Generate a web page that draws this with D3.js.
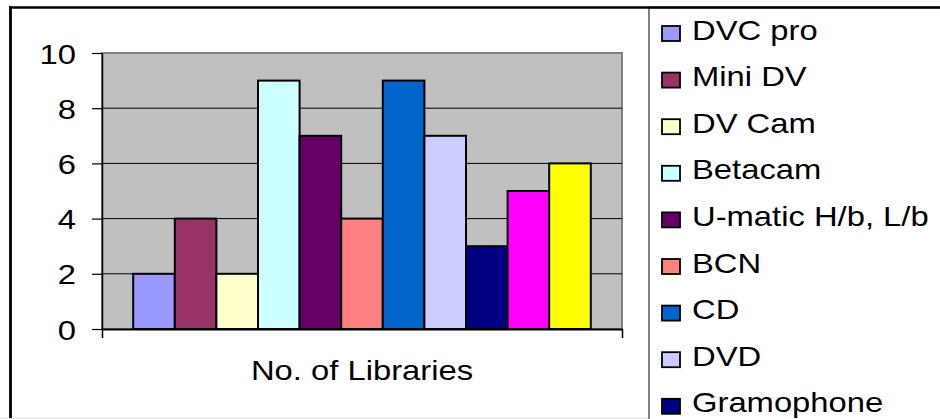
<!DOCTYPE html>
<html>
<head>
<meta charset="utf-8">
<script src="https://cdn.jsdelivr.net/npm/d3@7"></script>
<style>
  html, body { margin: 0; padding: 0; background: #fff; }
  svg { display: block; }
  text { font-family: "Liberation Sans", Arial, sans-serif; fill: #000; }
</style>
</head>
<body>
<svg id="chart" width="940" height="419"></svg>
<script>
// ---- data ----
const seriesNames = ["DVC pro", "Mini DV", "DV Cam", "Betacam", "U-matic H/b, L/b", "BCN", "CD", "DVD", "Gramophone", "Series 10", "Series 11"];
const seriesValues = [2, 4, 2, 9, 7, 4, 9, 7, 3, 5, 6];
const seriesColors = ["#9999FF", "#993366", "#FFFFCC", "#CCFFFF", "#660066", "#FF8080", "#0066CC", "#CCCCFF", "#000080", "#FF00FF", "#FFFF00"];
const categoryLabel = "No. of Libraries";
const yTicks = [0, 2, 4, 6, 8, 10];

// ---- layout ----
const W = 940, H = 419;
const plot = { left: 102, right: 622, top: 53, bottom: 329 };
const sx = 1.17; // horizontal text stretch seen in reference
const fontSize = 28;

const svg = d3.select("#chart");

// outer chart border (left + top black, faint bottom)
svg.append("line").attr("x1", 0).attr("x2", W).attr("y1", 418.5).attr("y2", 418.5)
  .attr("stroke", "#e6e6e6").attr("stroke-width", 1.5);
svg.append("line").attr("x1", 10.5).attr("x2", 10.5).attr("y1", 6).attr("y2", 418)
  .attr("stroke", "#000").attr("stroke-width", 2.8);

// plot area
svg.append("rect").attr("x", plot.left).attr("y", plot.top)
  .attr("width", plot.right - plot.left).attr("height", plot.bottom - plot.top)
  .attr("fill", "#C0C0C0").attr("stroke", "#808080").attr("stroke-width", 2);

const y = d3.scaleLinear().domain([0, 10]).range([plot.bottom, plot.top]);
const plotW = plot.right - plot.left;
const bw = plotW / (seriesNames.length + 1.5);
const x = d3.scaleBand().domain(seriesNames)
  .range([plot.left + bw * 0.75, plot.right - bw * 0.75]).padding(0);

// gridlines
svg.append("g").selectAll("line").data(yTicks.filter(t => t > 0 && t < 10)).join("line")
  .attr("x1", plot.left).attr("x2", plot.right)
  .attr("y1", d => y(d)).attr("y2", d => y(d))
  .attr("stroke", "#000").attr("stroke-width", 1);

// bars
svg.append("g").selectAll("rect").data(seriesValues).join("rect")
  .attr("x", (d, i) => x(seriesNames[i]))
  .attr("y", d => y(d))
  .attr("width", x.bandwidth())
  .attr("height", d => y(0) - y(d))
  .attr("fill", (d, i) => seriesColors[i])
  .attr("stroke", "#000").attr("stroke-width", 2);

// y axis
const yAxis = svg.append("g").attr("transform", `translate(${plot.left},0)`)
  .call(d3.axisLeft(y).tickValues(yTicks).tickSize(10).tickPadding(16).tickSizeOuter(0));
yAxis.select(".domain").attr("stroke", "#000").attr("stroke-width", 1.5);
yAxis.selectAll(".tick line").attr("stroke", "#000").attr("stroke-width", 1.2);
yAxis.selectAll(".tick text").each(function() {
  const t = d3.select(this);
  const xx = +t.attr("x");
  t.attr("x", 0).attr("transform", `translate(${xx},0) scale(${sx},1)`)
    .attr("font-size", fontSize).attr("font-family", "Liberation Sans, Arial, sans-serif")
    .attr("dy", "0.36em");
});

// x axis
const xAxisScale = d3.scaleLinear().domain([0, 1]).range([plot.left, plot.right]);
const xAxis = svg.append("g").attr("transform", `translate(0,${plot.bottom})`)
  .call(d3.axisBottom(xAxisScale).tickValues([0, 1]).tickFormat("").tickSize(9).tickSizeOuter(0));
xAxis.select(".domain").attr("stroke", "#000").attr("stroke-width", 2);
xAxis.selectAll(".tick line").attr("stroke", "#000").attr("stroke-width", 1.5);

svg.append("text")
  .attr("transform", `translate(${(plot.left + plot.right) / 2},380) scale(${sx},1)`)
  .attr("text-anchor", "middle").attr("font-size", fontSize)
  .text(categoryLabel);

// legend
const legX = 649;
svg.append("rect").attr("x", legX).attr("y", 7.5).attr("width", W).attr("height", H + 10)
  .attr("fill", "#fff").attr("stroke", "#808080").attr("stroke-width", 2);
svg.append("line").attr("x1", 9).attr("x2", W).attr("y1", 7.5).attr("y2", 7.5)
  .attr("stroke", "#000").attr("stroke-width", 2.5);

const rowH = 46.6, firstBase = 39.5;
const items = seriesNames.map((n, i) => ({ n, c: seriesColors[i], base: firstBase + i * rowH }))
  .filter(d => d.base < H);
const leg = svg.append("g").selectAll("g").data(items).join("g");
leg.append("rect").attr("x", 662).attr("y", d => d.base - 13.5).attr("width", 18).attr("height", 15)
  .attr("fill", d => d.c).attr("stroke", "#000").attr("stroke-width", 1.8);
leg.append("text")
  .attr("transform", d => `translate(692,${d.base}) scale(${sx},1)`)
  .attr("font-size", fontSize)
  .text(d => d.n);
</script>
</body>
</html>
